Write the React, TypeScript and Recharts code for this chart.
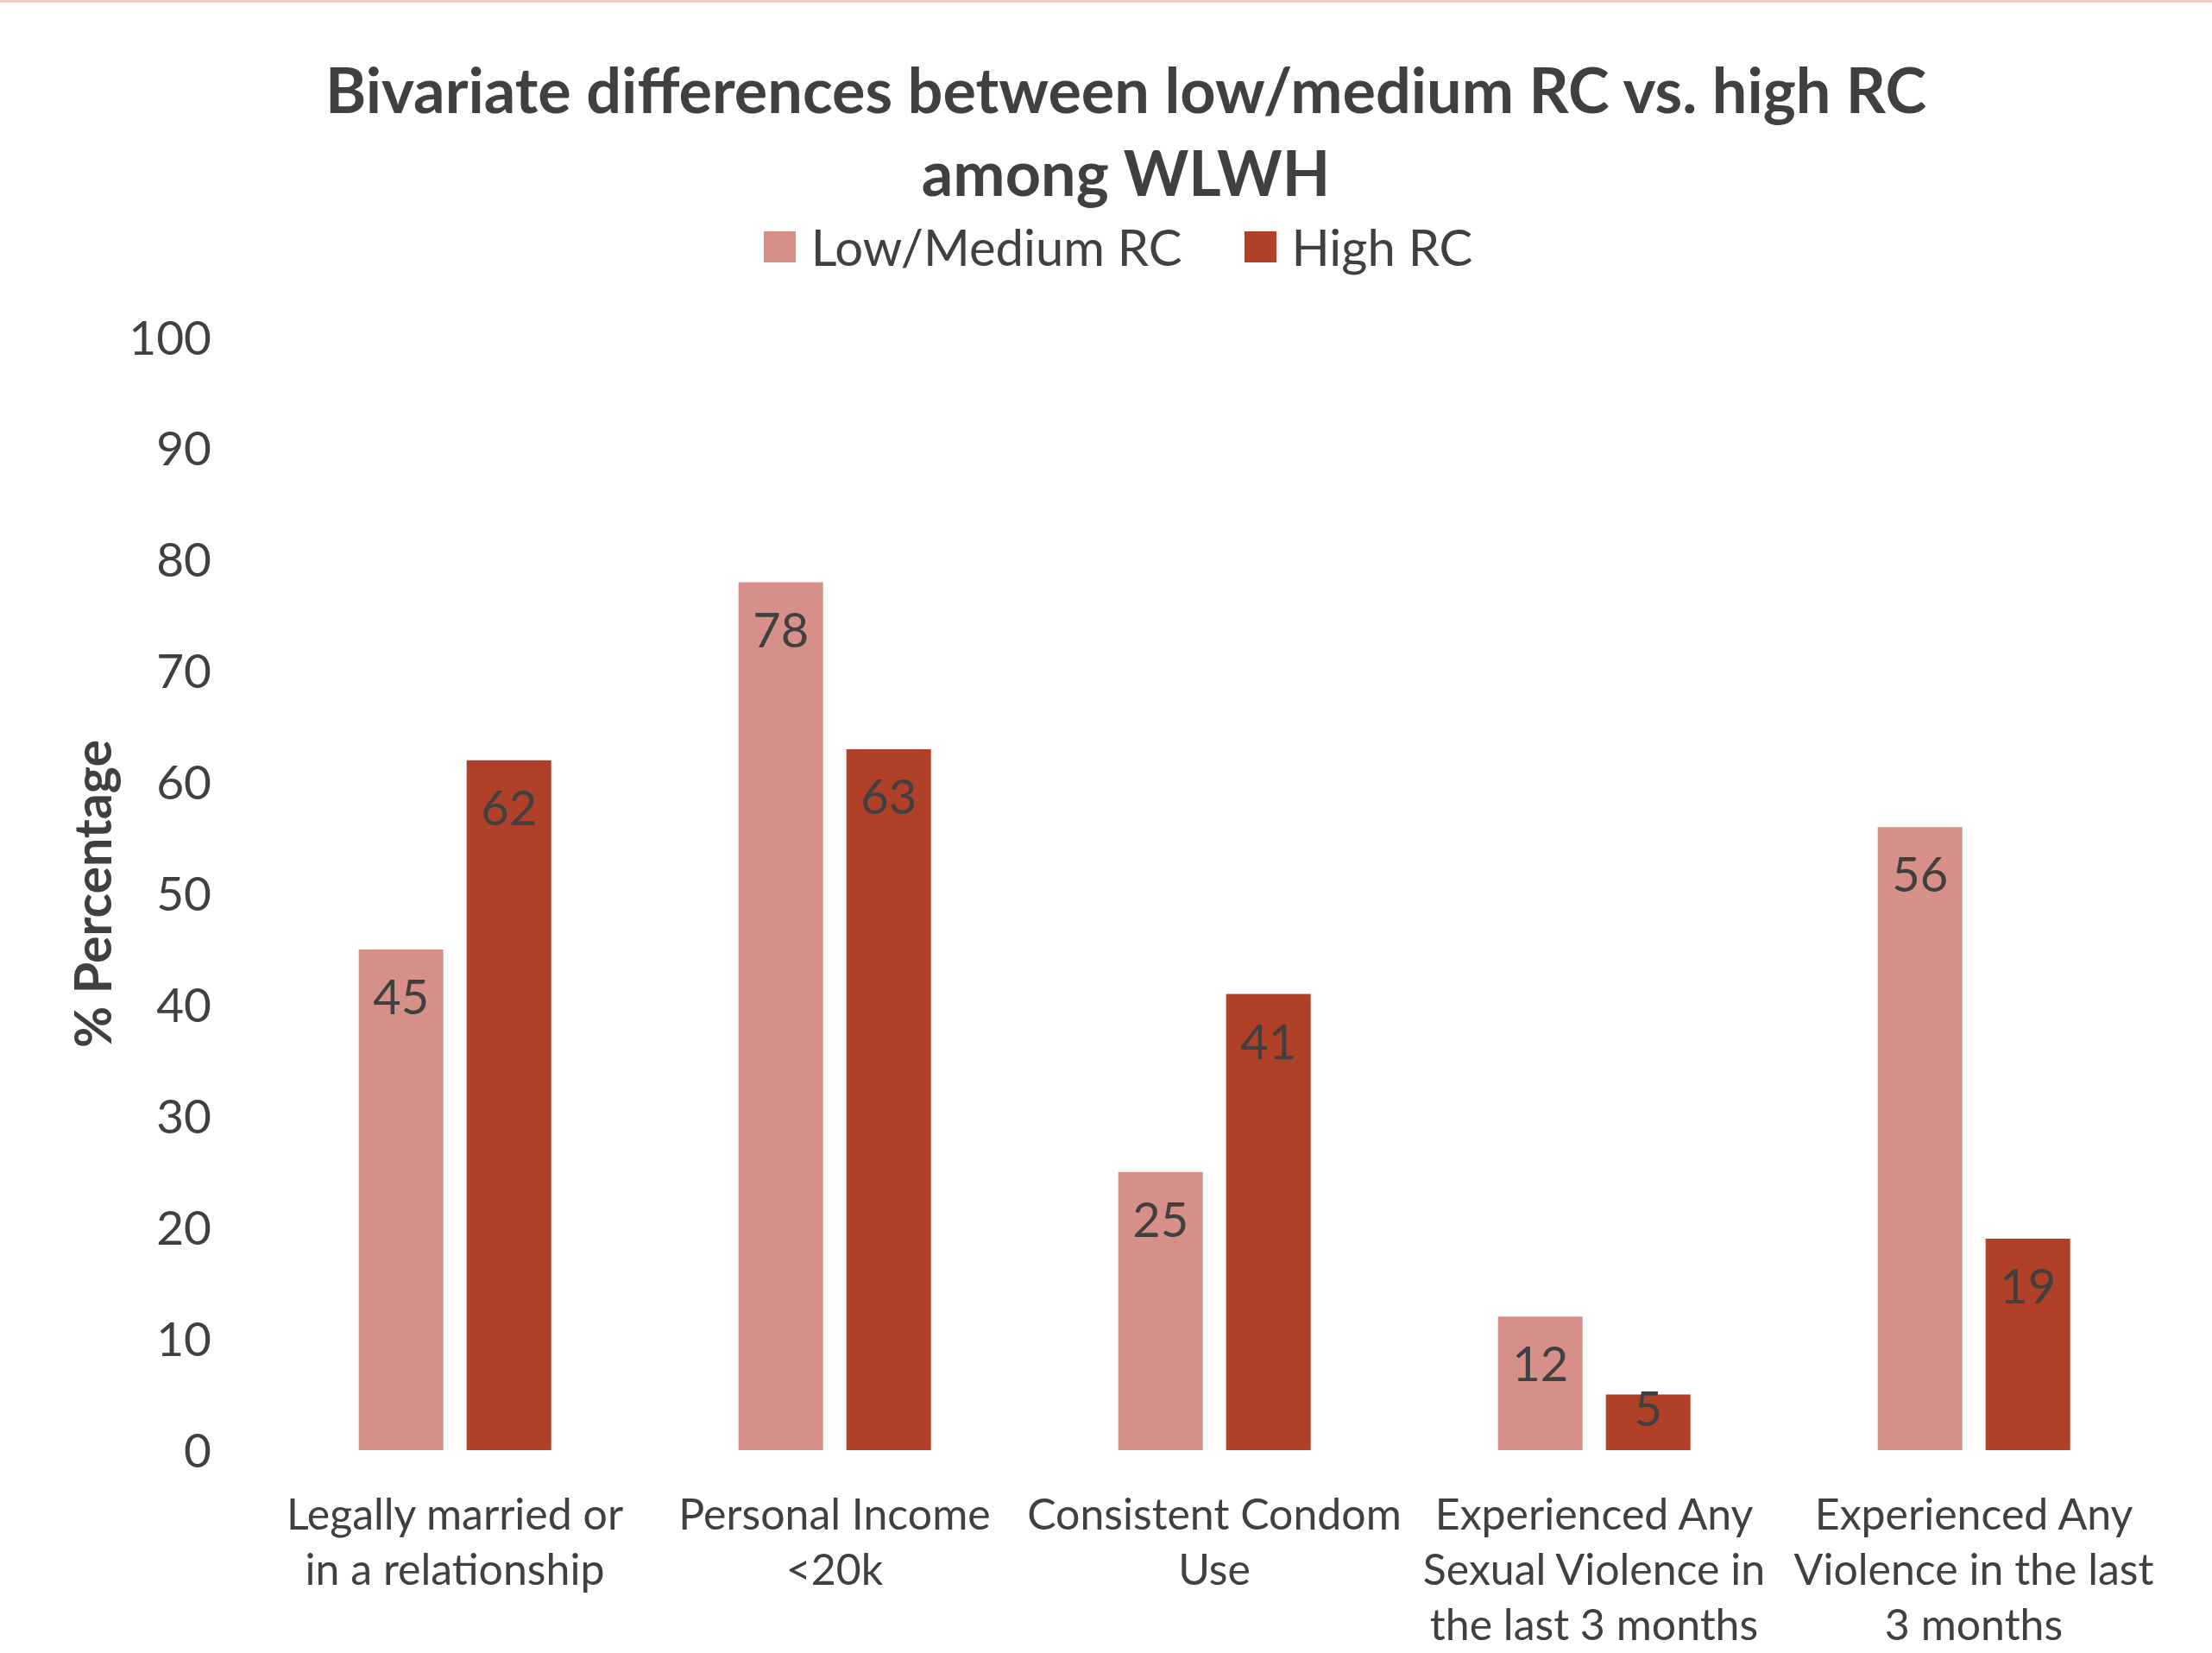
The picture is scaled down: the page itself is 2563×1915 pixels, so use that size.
import { BarChart, Bar, XAxis, YAxis, Legend, LabelList } from "recharts";

const categoryLines = [
  ["Legally married or", "in a relationship"],
  ["Personal Income", "<20k"],
  ["Consistent Condom", "Use"],
  ["Experienced Any", "Sexual Violence in", "the last 3 months"],
  ["Experienced Any", "Violence in the last", "3 months"],
];
const categories = categoryLines.map((l) => l.join(" "));
const lowMedium = [45, 78, 25, 12, 56];
const high = [62, 63, 41, 5, 19];
const yTicks = [0, 10, 20, 30, 40, 50, 60, 70, 80, 90, 100];

const data = categories.map((name, i) => ({
  name,
  lowMedium: lowMedium[i],
  high: high[i],
}));

const FONT = "Lato, 'Open Sans', sans-serif";
const TEXT = "#404040";
const PINK = "#D79089";
const RED = "#B04028";
const seriesOrder = ["lowMedium", "high"];

function CategoryTick(props: any) {
  const { x, y, payload } = props;
  const lines = categoryLines[payload.index] || [payload.value];
  return (
    <text textAnchor="middle" fill={TEXT} fontFamily={FONT} fontSize={50}>
      {lines.map((line, i) => (
        <tspan key={i} x={x} y={y + 72 + i * 64 + 18}>
          {line}
        </tspan>
      ))}
    </text>
  );
}

function BarValue(props: any) {
  const { x, y, width, height, value } = props;
  // short bars get the label pushed up near the top edge, like Excel does
  const cy = height > 100 ? y + 55 : y + 16;
  return (
    <text
      x={x + width / 2}
      y={cy + 20}
      textAnchor="middle"
      fill={TEXT}
      fontFamily={FONT}
      fontSize={56}
    >
      {value}
    </text>
  );
}

function LegendContent(props: any) {
  const payload = [...(props.payload || [])].sort(
    (a: any, b: any) =>
      seriesOrder.indexOf(a.dataKey) - seriesOrder.indexOf(b.dataKey)
  );
  return (
    <div
      style={{
        display: "flex",
        justifyContent: "center",
        alignItems: "center",
        gap: 72,
        fontFamily: FONT,
        fontSize: 58,
        color: TEXT,
      }}
    >
      {payload.map((p: any) => (
        <div key={p.value} style={{ display: "flex", alignItems: "center" }}>
          <span
            style={{
              display: "inline-block",
              width: 37,
              height: 36,
              background: p.color,
              marginRight: 18,
            }}
          />
          <span>{p.value}</span>
        </div>
      ))}
    </div>
  );
}

function YTitle(props: any) {
  const { viewBox } = props;
  const cx = 106;
  const cy = viewBox.y + viewBox.height / 2;
  return (
    <text
      x={cx}
      y={cy}
      transform={`rotate(-90, ${cx}, ${cy})`}
      textAnchor="middle"
      dominantBaseline="central"
      fill={TEXT}
      fontFamily={FONT}
      fontWeight="bold"
      fontSize={59}
    >
      % Percentage
    </text>
  );
}

export default function App() {
  return (
    <div
      style={{
        position: "absolute",
        left: 0,
        top: 0,
        width: 2563,
        height: 1915,
        background: "#fff",
        overflow: "hidden",
      }}
    >
      <div
        style={{
          position: "absolute",
          left: 0,
          top: 0,
          width: 2563,
          height: 3,
          background: "#F3CBC7",
        }}
      />
      <div
        style={{
          position: "absolute",
          left: 23,
          top: 55,
          width: 2563,
          textAlign: "center",
          fontFamily: FONT,
          fontWeight: "bold",
          fontSize: 72,
          lineHeight: "96px",
          color: TEXT,
        }}
      >
        Bivariate differences between low/medium RC vs. high RC
        <br />
        among WLWH
      </div>
      <BarChart
        width={2563}
        height={1915}
        data={data}
        margin={{ top: 391, right: 56, bottom: 0, left: 0 }}
        barCategoryGap="24.7%"
        barGap={27}
      >
        <XAxis
          dataKey="name"
          height={235}
          axisLine={false}
          tickLine={false}
          tickSize={0}
          interval={0}
          tick={<CategoryTick />}
        />
        <YAxis
          width={307}
          domain={[0, 100]}
          ticks={yTicks}
          axisLine={false}
          tickLine={false}
          tickSize={0}
          tickMargin={62}
          tick={{ fill: TEXT, fontFamily: FONT, fontSize: 55 }}
          label={<YTitle />}
        />
        <Legend
          verticalAlign="middle"
          align="center"
          content={<LegendContent />}
          wrapperStyle={{ top: 251, left: 14, width: 2563 }}
        />
        <Bar
          dataKey="lowMedium"
          name="Low/Medium RC"
          fill={PINK}
          isAnimationActive={false}
        >
          <LabelList dataKey="lowMedium" content={<BarValue />} />
        </Bar>
        <Bar dataKey="high" name="High RC" fill={RED} isAnimationActive={false}>
          <LabelList dataKey="high" content={<BarValue />} />
        </Bar>
      </BarChart>
    </div>
  );
}
